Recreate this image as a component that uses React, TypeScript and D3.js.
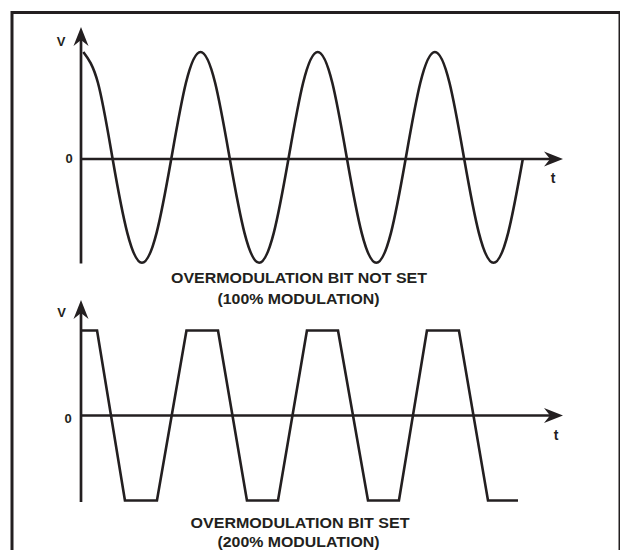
import React from "react";
import * as d3 from "d3";

// Top panel: sine carrier (100% modulation), time in carrier periods, value in units of amplitude
const sineT = [0.02, 0.145, 0.27, 0.395, 0.52, 0.645, 0.77, 0.895, 1.02, 1.145, 1.27, 1.395, 1.52, 1.645, 1.77, 1.895, 2.02, 2.145, 2.27, 2.395, 2.52, 2.645, 2.77, 2.895, 3.02, 3.145, 3.27, 3.395, 3.52, 3.645, 3.77];
const sineV = [1.0, 0.71, 0, -0.69, -0.97, -0.69, 0, 0.71, 1.0, 0.71, 0, -0.69, -0.97, -0.69, 0, 0.71, 1.0, 0.71, 0, -0.69, -0.97, -0.69, 0, 0.71, 1.0, 0.71, 0, -0.69, -0.97, -0.69, 0];

// Bottom panel: clipped / trapezoid (200% modulation)
const trapT = [0, 0.137, 0.375, 0.648, 0.9, 1.169, 1.416, 1.681, 1.928, 2.193, 2.449, 2.713, 2.952, 3.225, 3.473, 3.729];
const trapV = [1, 1, -1, -1, 1, 1, -1, -1, 1, 1, -1, -1, 1, 1, -1, -1];

const tMax = 4.113;
const yLabel = "V";
const xLabel = "t";
const zeroLabel = "0";
const caption1 = ["OVERMODULATION BIT NOT SET", "(100% MODULATION)"];
const caption2 = ["OVERMODULATION BIT SET", "(200% MODULATION)"];

const INK = "#231f20";
const FONT = "'Liberation Sans', Arial, Helvetica, sans-serif";

function Arrow({ x, y, dir }: { x: number; y: number; dir: "up" | "right" }) {
  const rot = dir === "up" ? -90 : 0;
  return (
    <path
      d="M0,0 L-19,-7.5 L-13,0 L-19,7.5 Z"
      transform={`translate(${x},${y}) rotate(${rot})`}
      fill={INK}
    />
  );
}

export default function App() {
  const x = d3.scaleLinear().domain([0, tMax]).range([81, 563]);
  const yTop = d3.scaleLinear().domain([-1, 1]).range([266, 52]);
  const yBot = d3.scaleLinear().domain([-1, 1]).range([500.5, 330.5]);

  const sineLine = d3
    .line<number>()
    .x((_, i) => x(sineT[i]))
    .y((v) => yTop(v))
    .curve(d3.curveNatural);
  const trapLine = d3
    .line<number>()
    .x((_, i) => x(trapT[i]))
    .y((v) => yBot(v));

  const x0 = x(0);
  const xEnd = x(tMax);
  const lbl = { fontFamily: FONT, fontWeight: 700, fill: INK } as const;

  return (
    <svg
      width={620}
      height={550}
      style={{ position: "absolute", left: 0, top: 0, background: "#fff" }}
    >
      <rect x={0} y={0} width={620} height={550} fill="#fff" />
      <rect x={12} y={12.5} width={608} height={600} fill="none" stroke={INK} strokeWidth={3} />

      {/* Top panel */}
      <line x1={x0} x2={x0} y1={40} y2={263.5} stroke={INK} strokeWidth={2.7} />
      <Arrow x={x0} y={27} dir="up" />
      <line x1={x0} x2={xEnd - 10} y1={yTop(0)} y2={yTop(0)} stroke={INK} strokeWidth={2.7} />
      <Arrow x={xEnd} y={yTop(0)} dir="right" />
      <path d={sineLine(sineV) || ""} fill="none" stroke={INK} strokeWidth={2.6} />
      <text x={61} y={45.5} textAnchor="middle" fontSize={13} {...lbl}>{yLabel}</text>
      <text x={69} y={163} textAnchor="middle" fontSize={13} {...lbl}>{zeroLabel}</text>
      <text x={553} y={182.5} textAnchor="middle" fontSize={14} {...lbl}>{xLabel}</text>
      <text x={299} y={282.5} textAnchor="middle" fontSize={14} textLength={256} lengthAdjust="spacingAndGlyphs" {...lbl}>{caption1[0]}</text>
      <text x={298.5} y={303.5} textAnchor="middle" fontSize={14} textLength={162} lengthAdjust="spacingAndGlyphs" {...lbl}>{caption1[1]}</text>

      {/* Bottom panel */}
      <line x1={x0} x2={x0} y1={312} y2={502} stroke={INK} strokeWidth={2.7} />
      <Arrow x={x0} y={300} dir="up" />
      <line x1={x0} x2={xEnd - 10} y1={yBot(0)} y2={yBot(0)} stroke={INK} strokeWidth={2.7} />
      <Arrow x={xEnd} y={yBot(0)} dir="right" />
      <path d={trapLine(trapV) || ""} fill="none" stroke={INK} strokeWidth={2.6} strokeLinejoin="miter" />
      <text x={61.5} y={316.5} textAnchor="middle" fontSize={13} {...lbl}>{yLabel}</text>
      <text x={68} y={422.5} textAnchor="middle" fontSize={13} {...lbl}>{zeroLabel}</text>
      <text x={556} y={439.5} textAnchor="middle" fontSize={14} {...lbl}>{xLabel}</text>
      <text x={300} y={527.5} textAnchor="middle" fontSize={14} textLength={219} lengthAdjust="spacingAndGlyphs" {...lbl}>{caption2[0]}</text>
      <text x={298.5} y={546.5} textAnchor="middle" fontSize={14} textLength={162} lengthAdjust="spacingAndGlyphs" {...lbl}>{caption2[1]}</text>
    </svg>
  );
}
